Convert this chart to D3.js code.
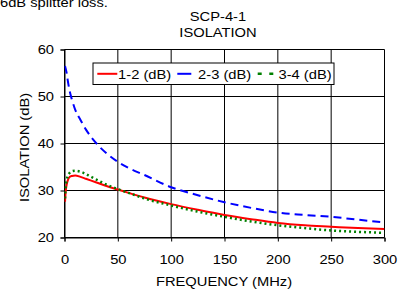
<!DOCTYPE html>
<html>
<head>
<meta charset="utf-8">
<script src="https://cdn.jsdelivr.net/npm/d3@7"></script>
<style>
  body { margin: 0; background: #fff; }
  text { font-family: "Liberation Sans", Arial, sans-serif; }
</style>
</head>
<body>
<div id="chart"></div>
<script>
// frequency points (MHz)
const freq = [0.5, 1, 2, 3, 5, 7, 10, 15, 20, 30, 40, 50, 60, 75, 100, 125, 150, 175, 200, 225, 250, 275, 300];
// isolation values (dB)
const iso12 = [27.6, 29.5, 31.2, 32.1, 32.9, 33.1, 33.2, 32.9, 32.5, 31.7, 30.9, 30.2, 29.5, 28.5, 27.1, 25.9, 24.8, 23.9, 23.1, 22.6, 22.3, 22.0, 21.8];
const iso23 = [56.5, 56.0, 55.0, 53.5, 51.0, 49.3, 47.2, 45.0, 43.0, 40.0, 37.8, 36.1, 34.8, 33.3, 30.7, 29.0, 27.5, 26.3, 25.3, 24.8, 24.4, 23.8, 23.2];
const iso34 = [28.3, 30.3, 32.2, 33.0, 33.8, 34.1, 34.2, 34.0, 33.5, 32.3, 31.2, 30.3, 29.5, 28.3, 26.8, 25.5, 24.4, 23.4, 22.6, 22.0, 21.5, 21.2, 21.0];
const xTicks = [0, 50, 100, 150, 200, 250, 300];
const yTicks = [20, 30, 40, 50, 60];

const series = [
  { name: "1-2 (dB)", values: iso12, color: "#ff0000", dash: null, legendDash: null, width: 2 },
  { name: "2-3 (dB)", values: iso23, color: "#0000ff", dash: "8,5", legendDash: "14,6", width: 2 },
  { name: "3-4 (dB)", values: iso34, color: "#008000", dash: "2,3", legendDash: "4,7.6", width: 2.5 }
];

const width = 407, height = 293;
const margin = { left: 64.5, right: 22.5, top: 49.5, bottom: 55.5 };
const fs = 12.8;     // font size
const sx = 1.15;     // the original font is wider than Arial

const svg = d3.select("#chart").append("svg")
    .attr("width", width)
    .attr("height", height);

const x = d3.scaleLinear().domain([0, 300]).range([margin.left, width - margin.right]);
const y = d3.scaleLinear().domain([20, 60]).range([height - margin.bottom, margin.top]);

// gridlines
svg.append("g")
  .selectAll("line")
  .data(xTicks)
  .join("line")
    .attr("x1", d => x(d)).attr("x2", d => x(d))
    .attr("y1", y(20)).attr("y2", y(60))
    .attr("stroke", "#000").attr("stroke-width", 1);

svg.append("g")
  .selectAll("line")
  .data(yTicks)
  .join("line")
    .attr("x1", x(0)).attr("x2", x(300))
    .attr("y1", d => y(d)).attr("y2", d => y(d))
    .attr("stroke", "#000").attr("stroke-width", 1);

// axes
const xAxis = svg.append("g")
    .attr("transform", `translate(0,${y(20)})`)
    .call(d3.axisBottom(x).tickValues(xTicks).tickSize(4));
const yAxis = svg.append("g")
    .attr("transform", `translate(${x(0)},0)`)
    .call(d3.axisLeft(y).tickValues(yTicks).tickSize(4));

[xAxis, yAxis].forEach(g => {
  g.select(".domain").attr("stroke", "#000");
  g.selectAll(".tick line").attr("stroke", "#000");
  g.selectAll(".tick text")
    .style("font-family", "'Liberation Sans', Arial, sans-serif")
    .style("font-size", fs + "px")
    .attr("fill", "#000");
});
xAxis.selectAll(".tick text")
    .attr("y", 0).attr("dy", null)
    .attr("transform", `translate(0,26.5) scale(${sx},1)`);
yAxis.selectAll(".tick text")
    .attr("x", 0)
    .attr("transform", `translate(-10.5,0) scale(${sx},1)`);

// lines
const line = vals => d3.line()
    .x((d, i) => x(freq[i]))
    .y(d => y(d))
    .curve(d3.curveMonotoneX)(vals);

svg.append("clipPath").attr("id", "plotclip")
  .append("rect")
    .attr("x", x(0)).attr("y", y(60))
    .attr("width", x(300) - x(0)).attr("height", y(20) - y(60));

svg.append("g")
    .attr("clip-path", "url(#plotclip)")
  .selectAll("path")
  .data(series)
  .join("path")
    .attr("d", d => line(d.values))
    .attr("fill", "none")
    .attr("stroke", d => d.color)
    .attr("stroke-width", d => d.width)
    .attr("stroke-dasharray", d => d.dash);

// legend
const legend = svg.append("g");
legend.append("rect")
    .attr("x", 93).attr("y", 63)
    .attr("width", 241).attr("height", 21.5)
    .attr("fill", "#fff").attr("stroke", "#000");

const legendX = [97.3, 177.3, 257.7];
const item = legend.selectAll("g.item")
  .data(series)
  .join("g")
    .attr("class", "item")
    .attr("transform", (d, i) => `translate(${legendX[i]},73.8)`);

item.append("line")
    .attr("x1", 0).attr("x2", 20)
    .attr("y1", 0).attr("y2", 0)
    .attr("stroke", d => d.color)
    .attr("stroke-width", d => d.width)
    .attr("stroke-dasharray", d => d.legendDash);

item.append("text")
    .attr("transform", `translate(20.8,4.9) scale(${sx},1)`)
    .style("font-size", fs + "px")
    .text(d => d.name);

// titles
function label(txt, tx, ty, anchor, rot) {
  svg.append("text")
      .attr("transform", `translate(${tx},${ty})` + (rot ? ` rotate(${rot})` : "") + ` scale(${sx},1)`)
      .attr("text-anchor", anchor)
      .style("font-size", fs + "px")
      .text(txt);
}
label("6dB splitter loss.", 0, 7, "start");
label("SCP-4-1", 218, 21.3, "middle");
label("ISOLATION", 218, 37, "middle");
label("FREQUENCY (MHz)", 224, 285.5, "middle");
label("ISOLATION (dB)", 28.7, 147.5, "middle", -90);
</script>
</body>
</html>
